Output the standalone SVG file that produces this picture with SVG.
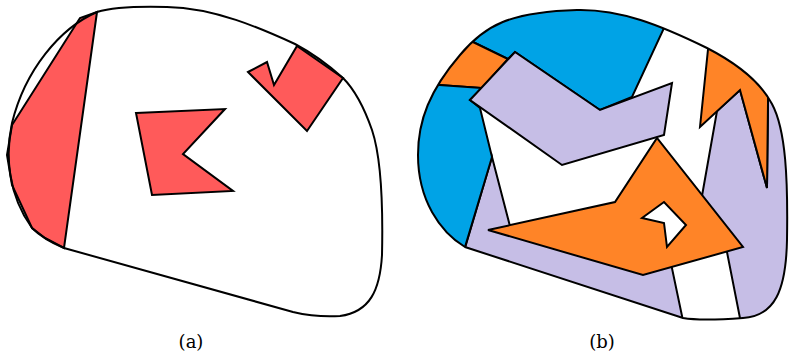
<svg xmlns="http://www.w3.org/2000/svg" width="789" height="364" viewBox="0 0 789 364">
<style>
.s{stroke:#000;stroke-width:2;stroke-linejoin:miter}
.red{fill:#FF5A5A}
.blue{fill:#00A3E6}
.orange{fill:#FF8427}
.lav{fill:#C6BEE6}
.white{fill:#fff}
.blob{fill:none;stroke:#000;stroke-width:2}
.lbl{font-family:"DejaVu Serif","Liberation Serif",serif;font-size:18px;fill:#000;text-anchor:middle}
</style>
<defs>
<path id="blobA" d="M64,248 L293,312 C310,316 325,317 340,316 C370,312 380,290 382,255 C383,210 382,160 372,130 C365,110 355,90 343,78 C325,62 310,52 295,44 C260,28 215,8 167,7 C130,6 110,8 97,12 C60,28 25,70 12,123 C5,155 8,195 32,228 C42,238 52,243 64,248 Z"/>
<path id="blobB" d="M465,247 C440,232 418,200 418,155 C418,120 430,90 460,55 C485,25 510,12 577,10 C620,9 660,25 707,48 C740,65 762,85 772,104 C786,130 788,180 787,240 C786,290 775,316 743,318 C715,320 695,320 683,318 Z"/>
<clipPath id="clipB"><use href="#blobB"/></clipPath>
</defs>
<g id="diagram-a">
<use href="#blobA" fill="#fff"/>
<polygon id="a-left" class="red s" points="97,12 64,248 45,238 32,228 12,185 7,155 12,125 80,18"/>
<polygon id="a-center" class="red s" points="136,113 225,109 183,154 233,191 152,195"/>
<polygon id="a-right" class="red s" points="248,72 267,62 274,85 297,46 343,78 307,131"/>
<use id="a-outline" href="#blobA" class="blob"/>
</g>
<g id="diagram-b">
<use href="#blobB" fill="#fff"/>
<g clip-path="url(#clipB)">
<polygon id="b-lav-lower" class="lav s" points="492,157 512,234 670.7,262 686,335 440,335 462,258"/>
<polygon id="b-lav-right" class="lav s" points="700.4,205 717,111 740,90 767,188 768.5,60 800,60 800,340 744.3,340 725.6,245"/>
<polygon id="b-blue-top" class="blue s" points="440,26 420,0 677,0 632,97 600,110 515,52 508,59"/>
<polygon id="b-orange-tl" class="orange s" points="440,26 508,59 482,88 415,83.3 410,20"/>
<polygon id="b-blue-left" class="blue s" points="415,83.3 482,88 470,100 480,108 492,157 465,247 462,258 400,262 400,83"/>
<polygon id="b-orange-right" class="orange s" points="710,30 700,127 740,90 767,188 768.5,60"/>
<polygon id="b-lav-banner" class="lav s" points="470,100 515,52 600,110 672,83 664,135 562,165"/>
<polygon id="b-orange-center" class="orange s" points="488,230 615,202 657,138 743,247 643,275"/>
<polygon id="b-hole" class="white s" points="642,218 664,202 686,225 667,247 664,223"/>
</g>
<use id="b-outline" href="#blobB" class="blob"/>
</g>
<g id="connectors"></g>
<g id="labels">
<text class="lbl" x="191" y="348">(a)</text>
<text class="lbl" x="602" y="348">(b)</text>
</g>
</svg>
